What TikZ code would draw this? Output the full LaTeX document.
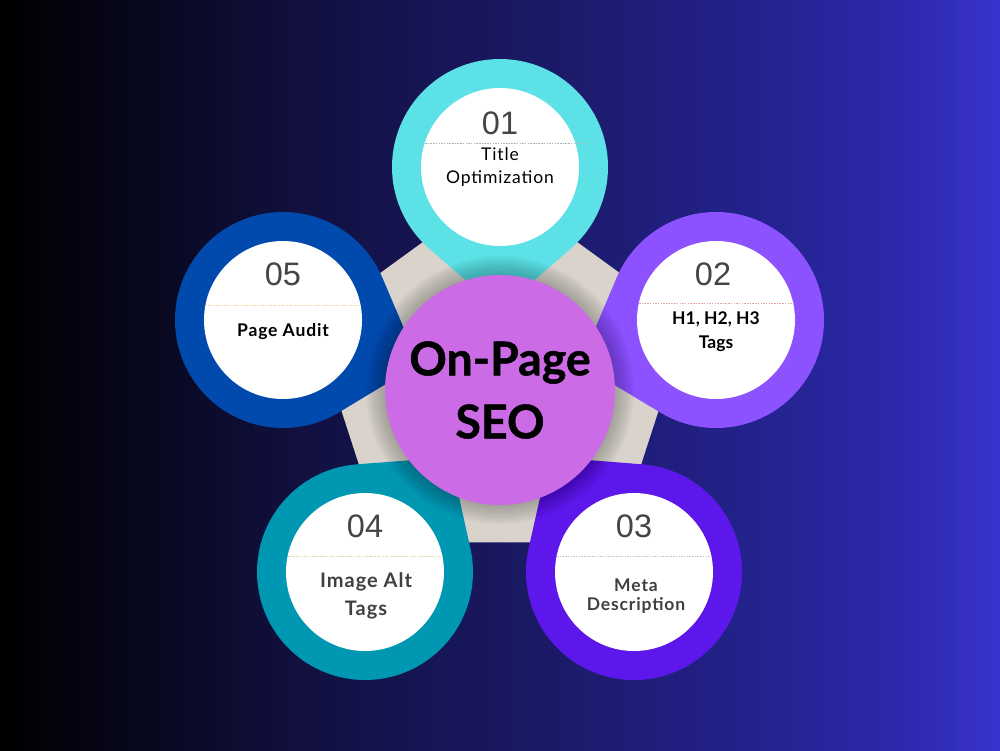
\documentclass[tikz,border=0pt]{standalone}
\usepackage{fontspec}
\setmainfont{Lato}
\newfontfamily\digitfont{Liberation Sans}
\newfontfamily\labfont{Lato}[LetterSpace=5]
\newfontfamily\heavyfont{Lato}[FakeBold=1]
\usetikzlibrary{calc}
\definecolor{bgA}{HTML}{000000}
\definecolor{bgB}{HTML}{11103F}
\definecolor{bgC}{HTML}{1B1A68}
\definecolor{bgD}{HTML}{23228C}
\definecolor{bgE}{HTML}{2C29AC}
\definecolor{bgF}{HTML}{3833CC}
\definecolor{pentagray}{HTML}{D9D3CB}
\definecolor{centerpurple}{HTML}{CB6CE6}
\definecolor{cyanpin}{HTML}{5CE1E6}
\definecolor{purplepin}{HTML}{8C52FF}
\definecolor{violetpin}{HTML}{5E17EB}
\definecolor{tealpin}{HTML}{0097B2}
\definecolor{bluepin}{HTML}{004AAD}
\definecolor{numgray}{HTML}{454545}
\definecolor{labgray}{HTML}{404040}
\definecolor{lineA}{HTML}{A9B4BC}
\definecolor{lineB}{HTML}{E3A3A0}
\definecolor{lineC}{HTML}{C8C8CC}
\definecolor{lineD}{HTML}{DAD8A2}
\definecolor{lineE}{HTML}{F0D892}
\pgfdeclarehorizontalshading{bgshade}{100bp}{color(0bp)=(bgA); color(25bp)=(bgA); color(40bp)=(bgB); color(52.5bp)=(bgC); color(62.5bp)=(bgD); color(70bp)=(bgE); color(75bp)=(bgF); color(100bp)=(bgF)}
\tikzset{
  whitedisc/.style={circle, fill=white, minimum size=158, inner sep=0},
  numtext/.style={font=\digitfont\fontsize{32.5}{32}\selectfont, text=numgray, inner sep=0},
  labreg/.style={font=\labfont\fontsize{17.5}{23}\selectfont, align=center, inner sep=0, text=black},
  labbold/.style={font=\bfseries\fontsize{17.5}{24}\selectfont, align=center, inner sep=0},
  sepline/.style={dash pattern=on 1.5pt off 1.2pt, line width=0.8pt}
}
\newcommand\petal[3]{%
  \fill[#3] ($(#1)+(#2-41:108)$) -- ($(#1)+(#2:143)$) -- ($(#1)+(#2+41:108)$)
    arc[start angle=#2+41, end angle=#2+319, radius=108] -- cycle;
  \node[whitedisc] (#1w) at (#1) {};
}
\begin{document}
\begin{tikzpicture}[x=1pt,y=1pt]
\useasboundingbox (0,-750) rectangle (1000,0);
\shade[shading=bgshade] (0,-750) rectangle (1000,0);
% pentagon
\coordinate (P) at (500,-383);
\fill[pentagray] ($(P)+(90:197)$) -- ($(P)+(162:197)$) -- ($(P)+(234:197)$)
  -- ($(P)+(306:197)$) -- ($(P)+(18:197)$) -- cycle;
% petals
\coordinate (t1) at (500,-167);
\coordinate (t2) at (716,-320);
\coordinate (t3) at (634,-572);
\coordinate (t4) at (365,-572);
\coordinate (t5) at (283,-320);
\petal{t1}{270}{cyanpin}
\petal{t2}{198}{purplepin}
\petal{t3}{126.4}{violetpin}
\petal{t4}{53.4}{tealpin}
\petal{t5}{342.1}{bluepin}
% separator lines
\draw[sepline, lineA] ($(t1)+(-75,24)$) -- ($(t1)+(86,24)$);
\draw[sepline, lineB] ($(t2)+(-77,17)$) -- ($(t2)+(77,17)$);
\draw[sepline, lineC] ($(t3)+(-77,16)$) -- ($(t3)+(77,16)$);
\draw[sepline, lineD] ($(t4)+(-77,16)$) -- ($(t4)+(77,16)$);
\draw[sepline, lineE] ($(t5)+(-77.5,15)$) -- ($(t5)+(77.5,15)$);
% numbers
\node[numtext] (n1) at ($(t1)+(0,44)$) {01};
\node[numtext] (n2) at ($(t2)+(-3,46)$) {02};
\node[numtext] (n3) at ($(t3)+(0,46)$) {03};
\node[numtext] (n4) at ($(t4)+(0,46)$) {04};
\node[numtext] (n5) at ($(t5)+(0,46)$) {05};
% labels
\node[labreg] (l1) at ($(t1)+(0,0)$) {Title\\Optimization};
\node[labbold, text=black] (l2) at ($(t2)+(0,-12)$) {H1, H2, H3\\Tags};
\node[labbold, text=labgray, font=\labfont\bfseries\fontsize{17.5}{19}\selectfont] (l3) at ($(t3)+(2,-24)$) {Meta\\Description};
\node[labbold, text=labgray, font=\labfont\bfseries\fontsize{20}{28}\selectfont] (l4) at ($(t4)+(1,-24)$) {Image Alt\\Tags};
\node[labbold, text=black, font=\labfont\bfseries\fontsize{17.5}{24}\selectfont] (l5) at ($(t5)+(0,-12)$) {Page Audit};
% shadow around centre
\coordinate (M) at (500,-390);
\foreach \i in {1,...,15} \fill[black, opacity=0.016] (M) circle[radius=115+\i*1.3];
% centre
\node[circle, fill=centerpurple, minimum size=230, inner sep=0] (centre) at (M) {};
\node[font=\heavyfont\bfseries\fontsize{46.5}{63}\selectfont, align=center, inner sep=0] (ctext) at (M) {On-Page\\SEO};
\end{tikzpicture}
\end{document}
